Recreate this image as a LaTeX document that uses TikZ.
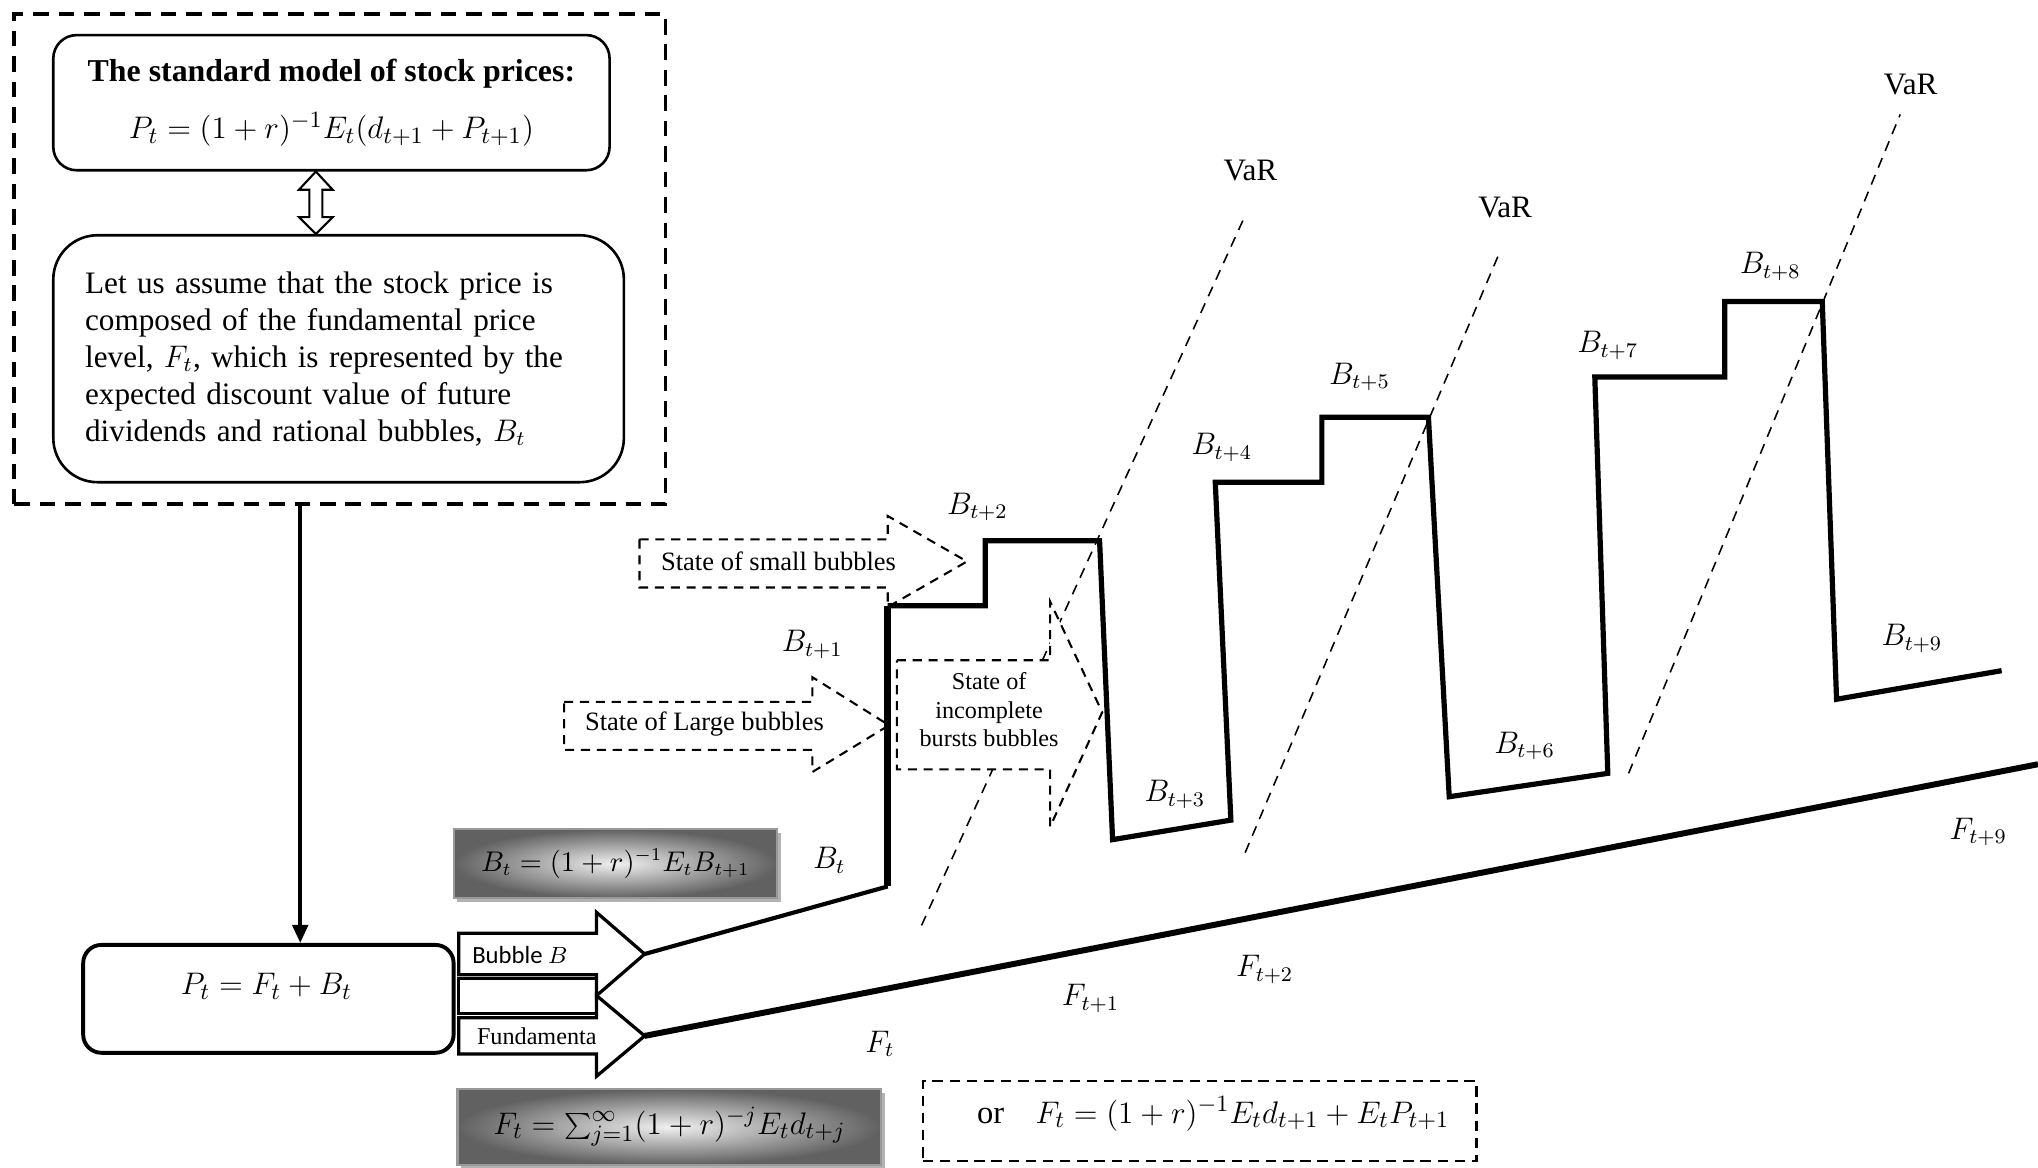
\documentclass[tikz,border=0pt]{standalone}
\usepackage{fontspec}
\setmainfont{Liberation Serif}
\newfontfamily\carl{Carlito}
\usetikzlibrary{arrows.meta,shadows}
\begin{document}
\begin{tikzpicture}[x=0.5pt,y=-0.5pt,
  txt/.style={font=\fontsize{12.25}{14.25}\selectfont},
  lbl/.style={font=\fontsize{11.5}{13}\selectfont, inner sep=0pt},
  varlbl/.style={font=\fontsize{12}{14}\selectfont, inner sep=0pt},
  rbox/.style={draw, line width=1pt, rounded corners=#1},
  outerdash/.style={line width=1.4pt, dash pattern=on 6pt off 3.8pt},
  stdash/.style={line width=0.8pt, dash pattern=on 3.5pt off 2.6pt, line join=miter},
  ordash/.style={line width=0.8pt, dash pattern=on 4pt off 2.6pt},
  vardash/.style={line width=0.6pt, dash pattern=on 4pt off 3pt},
  bub/.style={line width=2pt, line join=miter, line cap=butt},
  blk/.style={draw, line width=1.25pt, fill=white, line join=miter},
  gbox/.style={draw=gray!80, line width=0.8pt, shading=radial, inner color=gray!12,
     outer color=black!62, drop shadow={shadow xshift=1.3pt, shadow yshift=-1.3pt, fill=gray!60, opacity=1}},
]
\useasboundingbox (0,0) rectangle (1568,898);

% ---------- left block ----------
\node (outer) [draw, outerdash, minimum width=250.5pt, minimum height=188.5pt, inner sep=0pt] at (261.5,199.5) {};
\node (std) [rbox=9pt, minimum width=214pt, minimum height=52pt, align=center, txt, inner sep=0pt] at (255,79)
  {\textbf{The standard model of stock prices:}\\[8pt] $P_t=(1+r)^{-1}E_t(d_{t+1}+P_{t+1})$};
\node (assume) [rbox=17pt, minimum width=219.5pt, minimum height=95pt, text width=195pt, align=left,
  inner xsep=12.25pt, font=\fontsize{12}{14.25}\selectfont] at (260.5,276)
  {Let us assume that the stock price is\\ composed of the fundamental price\\ level, $F_t$, which is represented by the\\ expected discount value of future\\ dividends and rational bubbles, $B_t$};
% hollow double arrow
\draw[line width=0.8pt, fill=white, line join=miter] (std.south -| 243,0) -- (256,146) -- (248,146) -- (248,167) -- (256,167)
  -- (assume.north -| 243,0) -- (230,167) -- (238,167) -- (238,146) -- (230,146) -- cycle;

% ---------- P box and arrow ----------
\node (pbox) [draw, line width=1.5pt, rounded corners=7pt, minimum width=142.5pt, minimum height=41.5pt] at (206.5,768.5) {};
\node (ptxt) [txt, inner sep=0pt] at (205,759) {$P_t=F_t+B_t$};
\coordinate (vtop) at (231,388);
\draw[line width=1.5pt, -{Triangle[length=7pt,width=6pt]}] (vtop) -- (vtop |- pbox.north);

% ---------- block arrows ----------
\node (midrect) [blk, minimum width=53pt, minimum height=13.5pt, inner sep=0pt] at (406,766.5) {};
\coordinate (btip) at (496,734);
\coordinate (ftip) at (496,797);
\draw[blk] (353,718) -- (459,718) -- (459,702) -- (btip) -- (459,766) -- (459,750) -- (353,750) -- cycle;
\draw[blk] (353,783) -- (459,783) -- (459,766) -- (ftip) -- (459,828) -- (459,811) -- (353,811) -- cycle;
\node (bubtxt) [font=\carl\fontsize{9.5}{11}\selectfont, inner sep=0pt] at (400,735) {Bubble $B$};
\node (funtxt) [font=\fontsize{9.3}{11}\selectfont, inner sep=0pt] at (413,797) {Fundamenta};

% ---------- formula boxes ----------
\node (bform) [gbox, minimum width=124.5pt, minimum height=26.5pt, font=\fontsize{10.5}{12}\selectfont] at (473.5,664.5) {$B_t=(1+r)^{-1}E_tB_{t+1}$};
\node (fform) [gbox, minimum width=163pt, minimum height=29pt, font=\fontsize{12.5}{14}\selectfont] at (515,867) {$F_t=\sum_{j=1}^{\infty}(1+r)^{-j}E_td_{t+j}$};
\node (orbox) [draw, ordash, minimum width=213pt, minimum height=30.5pt] at (923,862.5) {};
\node (ortxt) [font=\fontsize{12.5}{14}\selectfont, inner sep=0pt] at (933.5,857) {or\hspace{12pt}$F_t=(1+r)^{-1}E_td_{t+1}+E_tP_{t+1}$};

% ---------- VaR dashed lines ----------
\node (var1) [varlbl] at (962,131) {VaR};
\node (var2) [varlbl] at (1158,160) {VaR};
\node (var3) [varlbl] at (1470,65) {VaR};
\coordinate (v1a) at (709,712); \coordinate (v1b) at (957,168);
\coordinate (v2a) at (958,656); \coordinate (v2b) at (1153,196);
\coordinate (v3a) at (1253,595); \coordinate (v3b) at (1462,88);
\draw[vardash] (v1a) -- (v1b);
\draw[vardash] (v2a) -- (v2b);
\draw[vardash] (v3a) -- (v3b);

% ---------- state arrows ----------
\draw[stdash, fill=white] (492,415) -- (683,415) -- (683,397) -- (744,432) -- (683,467) -- (683,452) -- (492,452) -- cycle;
\node (small) [font=\fontsize{10.2}{12}\selectfont, inner sep=0pt] at (599,432) {State of small bubbles};
\draw[stdash, fill=white] (434,540) -- (625,540) -- (625,521) -- (684,558) -- (625,594) -- (625,577) -- (434,577) -- cycle;
\node (large) [font=\fontsize{10.2}{12}\selectfont, inner sep=0pt] at (542,557) {State of Large bubbles};
\draw[stdash, fill=white] (690,508) -- (808,508) -- (808,463) -- (848,548) -- (808,636) -- (808,592) -- (690,592) -- cycle;
\node (incomp) [font=\fontsize{9.3}{11}\selectfont, align=center, inner sep=0pt] at (761,546) {State of\\incomplete\\bursts bubbles};

% ---------- bubble path ----------
\coordinate (b1) at (683,682);
\coordinate (b2) at (683,466);
\draw[line width=1.6pt] (btip) -- (b1);
\draw[bub, line width=2.6pt] (b1) -- (b2);
\draw[bub] (b2) -- (758,466) -- (758,416) -- (846,416) -- (856,646) -- (947,631) -- (935,371)
  -- (1017,371) -- (1017,321) -- (1099,321) -- (1115,613) -- (1237,595) -- (1227,290)
  -- (1327,290) -- (1327,232) -- (1402,232) -- (1413,538) -- (1540,516);
\coordinate (fend) at (1568,588);
\draw[bub, line width=2.3pt] (ftip) -- (fend);

% ---------- labels ----------
\node (lb0) [lbl] at (638,662) {$B_t$};
\node (lb1) [lbl] at (625,496) {$B_{t+1}$};
\node (lb2) [lbl] at (752,390) {$B_{t+2}$};
\node (lb3) [lbl] at (904,611) {$B_{t+3}$};
\node (lb4) [lbl] at (940,344) {$B_{t+4}$};
\node (lb5) [lbl] at (1046,290) {$B_{t+5}$};
\node (lb6) [lbl] at (1173,574) {$B_{t+6}$};
\node (lb7) [lbl] at (1237,266) {$B_{t+7}$};
\node (lb8) [lbl] at (1362,205) {$B_{t+8}$};
\node (lb9) [lbl] at (1471,491) {$B_{t+9}$};
\node (lf0) [lbl] at (677,803) {$F_t$};
\node (lf1) [lbl] at (839,768) {$F_{t+1}$};
\node (lf2) [lbl] at (973,746) {$F_{t+2}$};
\node (lf9) [lbl] at (1522,640) {$F_{t+9}$};
\end{tikzpicture}
\end{document}
